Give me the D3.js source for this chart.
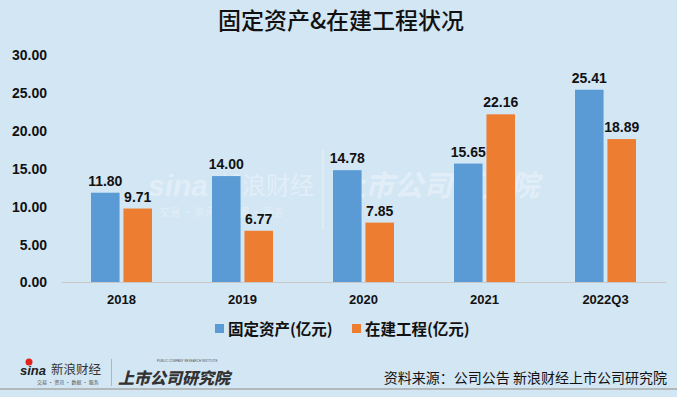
<!DOCTYPE html>
<html><head><meta charset="utf-8">
<script src="https://cdn.jsdelivr.net/npm/d3@7"></script>
<style>body{margin:0;background:#d3e6f4;}svg{display:block;}</style>
</head><body>
<script>
const categories = ["2018","2019","2020","2021","2022Q3"];
const fixedAssets = [11.80,14.00,14.78,15.65,25.41];
const construction = [9.71,6.77,7.85,22.16,18.89];
const seriesNames = ["固定资产(亿元)","在建工程(亿元)"];
const yTicks = [0,5,10,15,20,25,30];
const title = "固定资产&在建工程状况";
const source = "资料来源：公司公告 新浪财经上市公司研究院";

const W=677,H=397;
const svg=d3.select("body").append("svg").attr("width",W).attr("height",H);
svg.append("rect").attr("width",W).attr("height",H).attr("fill","#d3e6f4");
const cjk="'Noto Sans CJK SC','Noto Sans',sans-serif";
const num="'Liberation Sans',Arial,sans-serif";

svg.append("text").attr("x",341).attr("y",29).attr("text-anchor","middle")
 .attr("font-family",cjk).attr("font-size",23).attr("font-weight",500).attr("fill","#111").text(title);

// watermarks (faint)
const wm=svg.append("g").attr("fill","#ffffff").attr("opacity",0.35).attr("font-family",cjk);
wm.append("text").attr("x",148).attr("y",196).attr("font-size",30).attr("font-style","italic").attr("font-weight",700).attr("font-family",num).text("sina");
wm.append("text").attr("x",218).attr("y",194).attr("font-size",24).text("新浪财经");
wm.append("text").attr("x",160).attr("y",216).attr("font-size",10).text("交易 · 资讯 · 数据 · 服务");
wm.append("rect").attr("x",322).attr("y",150).attr("width",1.5).attr("height",80);
wm.append("text").attr("x",336).attr("y",196).attr("font-size",29).attr("font-weight",700).attr("font-style","italic").text("上市公司研究院");

const x0=d3.scaleBand().domain(categories).range([61,666]);
const y=d3.scaleLinear().domain([0,30]).range([282,55]);
const x1=d3.scaleBand().domain([0,1]).range([0,61]).paddingInner(0.12);

// y axis
const ya=svg.append("g").attr("transform","translate(47,0)")
 .call(d3.axisLeft(y).tickValues(yTicks).tickFormat(d3.format(".2f")).tickSize(0).tickPadding(0));
ya.select(".domain").remove();
ya.selectAll("text").attr("font-family",num).attr("font-size",14).attr("font-weight",700).attr("fill","#111").attr("dy","0.35em");

// x axis
const xa=svg.append("g").attr("transform","translate(0,282)")
 .call(d3.axisBottom(x0).tickSize(0).tickPadding(13));
xa.select(".domain").attr("stroke","#c8c8c8");
xa.selectAll("text").attr("font-family",num).attr("font-size",13).attr("font-weight",700).attr("fill","#111");

const colors=["#5b9bd5","#ed7d31"];
const series=[fixedAssets,construction];
series.forEach((vals,si)=>{
  const g=svg.append("g");
  const off=(x0.bandwidth()-61)/2;
  g.selectAll("rect").data(vals).join("rect")
   .attr("x",(d,i)=>x0(categories[i])+off+x1(si))
   .attr("width",x1.bandwidth())
   .attr("y",d=>y(d)).attr("height",d=>y(0)-y(d)).attr("fill",colors[si]);
  g.selectAll("text").data(vals).join("text")
   .attr("x",(d,i)=>x0(categories[i])+off+x1(si)+x1.bandwidth()/2)
   .attr("y",d=>y(d)-7).attr("text-anchor","middle")
   .attr("font-family",num).attr("font-size",14).attr("font-weight",700).attr("fill","#111")
   .text(d=>d.toFixed(2));
});

// legend
const lg=svg.append("g");
const lx=[215,352];
seriesNames.forEach((n,i)=>{
  lg.append("rect").attr("x",lx[i]).attr("y",324).attr("width",9).attr("height",9).attr("fill",colors[i]);
  lg.append("text").attr("x",lx[i]+13).attr("y",334.5).attr("font-family",cjk).attr("font-size",15.5).attr("font-weight",700).attr("fill","#111").text(n);
});

// footer
const ft=svg.append("g");
ft.append("text").attr("x",20).attr("y",375).attr("font-family",num).attr("font-size",13).attr("font-style","italic").attr("font-weight",900).attr("fill","#222").text("sina");
ft.append("circle").attr("cx",29).attr("cy",362).attr("r",3.5).attr("fill","#e2231a");
ft.append("text").attr("x",51).attr("y",374).attr("font-family",cjk).attr("font-size",12.5).attr("fill","#333").text("新浪财经");
ft.append("text").attr("x",37).attr("y",384).attr("font-family",cjk).attr("font-size",5).attr("fill","#555").text("交易 · 资讯 · 数据 · 服务");
ft.append("rect").attr("x",111).attr("y",359).attr("width",0.8).attr("height",27).attr("fill","#aaa");
ft.append("text").attr("x",118).attr("y",384).attr("font-family",cjk).attr("font-size",16).attr("font-weight",900).attr("font-style","italic").attr("fill","#333").text("上市公司研究院");
ft.append("text").attr("x",157).attr("y",362).attr("font-family",num).attr("font-size",3).attr("fill","#555").text("PUBLIC COMPANY RESEARCH INSTITUTE");
ft.append("text").attr("x",667).attr("y",382.5).attr("text-anchor","end").attr("font-family",cjk).attr("font-size",14).attr("fill","#111").text(source);
ft.append("line").attr("x1",0).attr("x2",W).attr("y1",389).attr("y2",389).attr("stroke","#a9a9a9").attr("stroke-width",1.5);
</script>
</body></html>
